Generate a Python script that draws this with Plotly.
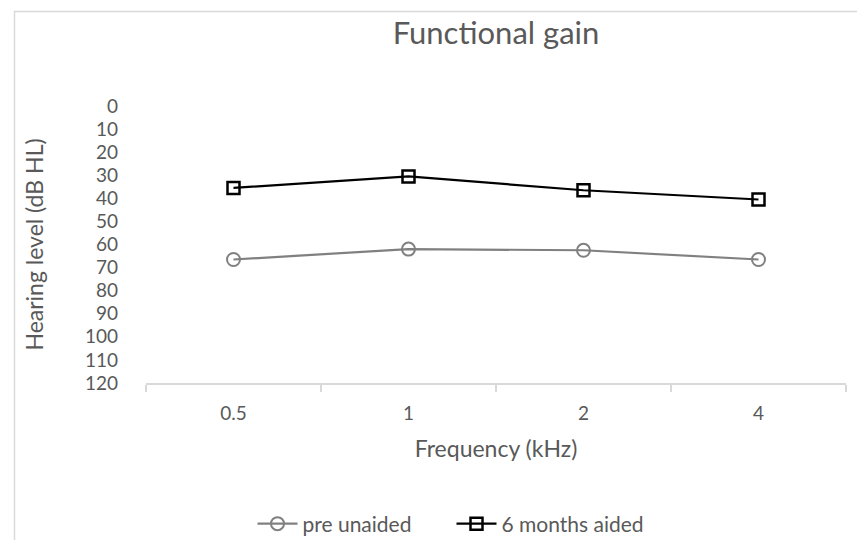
import plotly.graph_objects as go

categories = ["0.5", "1", "2", "4"]
pre_unaided = [66.5, 62, 62.5, 66.5]
aided_6m = [35.5, 30.5, 36.5, 40.5]
y_ticks = list(range(0, 121, 10))

FONT = "Lato, Carlito, Calibri, sans-serif"
TXT = "#595959"
GRID = "#d9d9d9"

W, H = 849, 532
L, R, T, B = 138, 11, 98, 157
PW, PH = W - L - R, H - T - B

fig = go.Figure()
fig.add_trace(go.Scatter(
    x=categories, y=pre_unaided, name="pre unaided", mode="lines+markers",
    line=dict(color="#808080", width=2.2),
    marker=dict(symbol="circle-open", size=13, color="#808080", line=dict(width=2)),
))
fig.add_trace(go.Scatter(
    x=categories, y=aided_6m, name="6 months aided", mode="lines+markers",
    line=dict(color="#000000", width=2.2),
    marker=dict(symbol="square-open", size=12, color="#000000", line=dict(width=2.5)),
))

fig.update_layout(
    width=W, height=H,
    margin=dict(l=L, r=R, t=T, b=B, autoexpand=False),
    paper_bgcolor="white", plot_bgcolor="white",
    font=dict(family=FONT, size=19, color=TXT),
    title=dict(text="Functional gain", x=488 / W, xanchor="center",
               y=1 - 25 / H, yanchor="middle",
               font=dict(size=31, color=TXT, family=FONT)),
    showlegend=True,
    legend=dict(orientation="h", x=(443.5 - L) / PW, xanchor="center",
                yref="container", y=1 - 516 / H, yanchor="middle",
                font=dict(size=21, color=TXT), itemwidth=40, entrywidth=144,
                bgcolor="rgba(0,0,0,0)"),
    shapes=[dict(type="rect", xref="paper", yref="paper",
                 x0=(6.5 - L) / PW, x1=(880 - L) / PW,
                 y0=-(560 - (H - B)) / PH, y1=1 + (T - 3.5) / PH,
                 line=dict(color=GRID, width=1.5), layer="below")],
)

fig.update_xaxes(
    type="category", range=[-0.5, 3.5], automargin=False,
    showline=True, linecolor=GRID, linewidth=1.5,
    ticks="outside", tickson="boundaries", ticklen=7, tickcolor=GRID, tickwidth=1.5,
    showgrid=False, zeroline=False,
    tickfont=dict(size=19, color=TXT), ticklabelstandoff=12,
    title=dict(text="Frequency (kHz)", font=dict(size=23, color=TXT), standoff=18),
)
fig.update_yaxes(
    range=[120, 0], tickvals=y_ticks, automargin=False,
    showline=False, showgrid=False, zeroline=False,
    ticks="", tickfont=dict(size=19, color=TXT), ticklabelstandoff=27,
    title=dict(text="Hearing level (dB HL)", font=dict(size=23, color=TXT), standoff=34),
)

fig.write_html("out.html")
